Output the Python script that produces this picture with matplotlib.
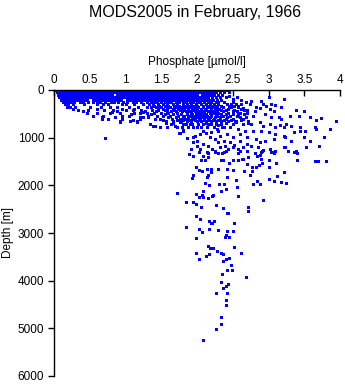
import matplotlib
matplotlib.use("Agg")
from matplotlib import pyplot as plt

# Phosphate values along the densely sampled upper levels (depth in the name, m)
p_0 = [0.02, 0.06, 0.1, 0.14, 0.17, 0.21, 0.25, 0.29, 0.33, 0.36, 0.4, 0.44, 0.48, 0.52, 0.55, 0.59,
       0.63, 0.67, 0.71, 0.74, 0.78, 0.82, 0.86, 0.9, 0.93, 0.97, 1.01, 1.05, 1.09, 1.12, 1.16, 1.2,
       1.24, 1.28, 1.31, 1.35, 1.39, 1.43, 1.47, 1.5, 1.54, 1.58, 1.62, 1.66, 1.69, 1.73, 1.77, 1.81,
       1.85, 1.88, 1.92, 1.96, 2.0, 2.04, 2.07, 2.11, 2.15, 2.19, 2.23, 2.28, 2.34, 2.4]
p_50 = [0.04, 0.08, 0.12, 0.16, 0.2, 0.23, 0.27, 0.31, 0.35, 0.39, 0.42, 0.46, 0.5, 0.54, 0.58, 0.61,
        0.65, 0.69, 0.73, 0.77, 0.8, 0.84, 0.88, 0.92, 0.96, 0.99, 1.03, 1.07, 1.11, 1.15, 1.18, 1.22,
        1.26, 1.3, 1.34, 1.37, 1.41, 1.45, 1.49, 1.53, 1.56, 1.6, 1.64, 1.68, 1.72, 1.75, 1.79, 1.83,
        1.87, 1.91, 1.94, 1.98, 2.02, 2.06, 2.1, 2.14, 2.18, 2.22, 2.27, 2.32, 2.38, 2.45]
p_100 = [0.05, 0.09, 0.13, 0.17, 0.21, 0.25, 0.29, 0.33, 0.37, 0.41, 0.45, 0.49, 0.53, 0.57, 0.61,
         0.65, 0.69, 0.73, 0.77, 0.81, 0.88, 0.92, 0.96, 1.0, 1.04, 1.08, 1.12, 1.16, 1.2, 1.24, 1.28,
         1.32, 1.36, 1.4, 1.44, 1.48, 1.52, 1.56, 1.6, 1.64, 1.68, 1.72, 1.76, 1.8, 1.84, 1.88, 1.92,
         1.96, 2.0, 2.07, 2.11, 2.15, 2.19, 2.24, 2.29, 2.35]
p_150 = [0.07, 0.11, 0.15, 0.19, 0.23, 0.27, 0.31, 0.35, 0.39, 0.43, 0.47, 0.51, 0.55, 0.59, 0.63,
         0.67, 0.71, 0.75, 0.79, 0.83, 0.87, 0.91, 0.95, 0.99, 1.03, 1.07, 1.11, 1.15, 1.19, 1.23, 1.27,
         1.31, 1.35, 1.39, 1.43, 1.47, 1.51, 1.55, 1.59, 1.63, 1.67, 1.71, 1.75, 1.79, 1.83, 1.87, 1.91,
         1.95, 1.99, 2.03, 2.07, 2.11, 2.16, 2.21, 2.26, 2.32, 2.4]
p_200 = [0.1, 0.14, 0.18, 0.22, 0.26, 0.3, 0.34, 0.38, 0.42, 0.46, 0.54, 0.58, 0.62, 0.66, 0.7, 0.74,
         0.78, 0.82, 0.86, 0.9, 0.94, 1.02, 1.06, 1.1, 1.14, 1.18, 1.22, 1.26, 1.3, 1.34, 1.38, 1.42,
         1.46, 1.5, 1.54, 1.58, 1.62, 1.66, 1.7, 1.74, 1.78, 1.82, 1.86, 1.9, 1.94, 1.98, 2.02, 2.06,
         2.1, 2.14, 2.18, 2.23, 2.28, 2.34]
p_250 = [0.12, 0.16, 0.2, 0.24, 0.28, 0.36, 0.4, 0.47, 0.55, 0.6, 0.64, 0.72, 0.8, 0.84, 0.9, 0.97,
         1.02, 1.1, 1.15, 1.22, 1.3, 1.36, 1.4, 1.44, 1.5, 1.55, 1.6, 1.64, 1.7, 1.75, 1.8, 1.84, 1.9,
         1.95, 2.0, 2.04, 2.1, 2.15, 2.2, 2.26, 2.3, 2.38, 2.5]
p_300 = [0.15, 0.2, 0.26, 0.42, 0.6, 0.68, 0.75, 0.95, 1.0, 1.12, 1.25, 1.33, 1.38, 1.45, 1.52, 1.58,
         1.66, 1.72, 1.8, 1.86, 1.92, 1.98, 2.05, 2.12, 2.18, 2.24, 2.3, 2.42, 2.55, 2.62]
p_330 = [1.4, 1.47, 1.55, 1.6, 1.68, 1.75, 1.82, 1.88, 1.94, 2.0, 2.09, 2.14, 2.2, 2.27, 2.33, 2.45,
         2.52]
p_360 = [0.18, 0.22, 0.3, 0.5, 0.66, 0.78, 0.88, 1.05, 1.18, 1.3, 1.36, 1.42, 1.5, 1.62, 1.7, 1.78,
         1.84, 1.9, 1.96, 2.02, 2.08, 2.16, 2.22, 2.28, 2.36, 2.48, 2.58]
p_390 = [0.26, 0.6, 0.95, 1.12, 1.45, 1.53, 1.58, 1.66, 1.74, 1.81, 1.87, 1.93, 1.99, 2.05, 2.11,
         2.19, 2.25, 2.31, 2.43, 2.62]
p_420 = [0.33, 0.48, 0.7, 0.82, 1.0, 1.1, 1.22, 1.37, 1.46, 1.55, 1.68, 1.76, 1.82, 1.88, 1.94, 2.0,
         2.06, 2.12, 2.2, 2.26, 2.34, 2.4, 2.52, 2.66]
p_450 = [0.4, 0.88, 1.27, 1.42, 1.58, 1.64, 1.71, 1.79, 1.84, 1.9, 1.97, 2.03, 2.09, 2.15, 2.22,
         2.28, 2.37, 2.56]
p_480 = [0.46, 0.6, 0.78, 0.92, 1.12, 1.2, 1.3, 1.4, 1.5, 1.6, 1.72, 1.86, 1.92, 1.98, 2.04, 2.1,
         2.18, 2.24, 2.3, 2.44, 2.6, 2.7]
p_510 = [1.08, 1.35, 1.55, 1.67, 1.78, 1.86, 1.93, 2.0, 2.06, 2.13, 2.2, 2.26, 2.33, 2.4, 2.5, 2.66]
p_540 = [0.55, 0.68, 0.95, 1.05, 1.32, 1.44, 1.53, 1.62, 1.74, 1.82, 1.9, 1.96, 2.02, 2.08, 2.14,
         2.2, 2.28, 2.36, 2.46, 2.56]
p_570 = [0.85, 1.25, 1.6, 1.7, 1.8, 1.87, 1.93, 1.99, 2.05, 2.12, 2.18, 2.25, 2.32, 2.42, 2.6]
p_600 = [0.67, 0.76, 0.95, 1.2, 1.41, 1.48, 1.65, 1.76, 1.83, 1.88, 1.95, 2.03, 2.1, 2.16, 2.24,
         2.32, 2.4, 2.5, 2.64]
p_630 = [1.1, 1.52, 1.72, 1.81, 1.9, 1.97, 2.04, 2.1, 2.17, 2.23, 2.3, 2.38, 2.48]
p_660 = [0.92, 1.06, 1.16, 1.57, 1.66, 1.78, 1.86, 1.92, 2.0, 2.06, 2.12, 2.2, 2.26, 2.34, 2.44,
         2.55, 2.72]
p_720 = [1.64, 1.84, 1.93, 2.02, 2.09, 2.2, 2.27, 2.34, 2.5]
p_780 = [1.72, 1.95, 2.05, 2.14, 2.24, 2.38]

levels = [0, 50, 100, 150, 200, 250, 300, 330, 360, 390, 420, 450, 480, 510, 540, 570, 600, 630,
          660, 720, 780]
level_rows = [p_0, p_50, p_100, p_150, p_200, p_250, p_300, p_330, p_360, p_390, p_420, p_450,
              p_480, p_510, p_540, p_570, p_600, p_630, p_660, p_720, p_780]

# scattered samples, upper / middle water
upper_p = [0.72, 0.92, 1.06, 1.16, 1.34, 1.41, 1.48, 1.58, 1.57, 1.66, 1.76, 1.79, 1.75, 1.8, 1.89,
           1.2, 1.32, 0.67, 0.55, 0.81, 0.95, 1.05, 1.25, 1.39, 1.69, 1.76, 1.81, 2.0, 2.09, 1.97,
           2.04, 2.0, 1.95, 2.09, 2.16, 2.04, 2.21, 2.25, 2.14, 2.32, 2.39, 2.44, 2.51, 2.58, 2.65,
           2.7, 2.6, 2.51, 2.42, 2.32, 2.25, 2.18, 2.6, 2.7, 2.67, 2.58, 2.46, 2.35, 2.28, 2.16,
           2.55, 2.65, 2.72, 1.93, 1.9, 1.81, 1.95, 2.45, 2.5, 2.56, 2.62, 2.68, 2.48, 2.58, 2.64,
           2.7, 2.5, 2.58, 2.68, 2.62, 2.53, 2.72, 2.4, 2.3, 2.12, 2.2, 2.3, 2.12, 1.88, 1.86, 2.38,
           2.46, 2.52, 2.3, 2.6, 2.7, 2.38, 2.0, 1.92]
upper_d = [1013, 680, 645, 680, 710, 755, 770, 780, 685, 685, 665, 770, 895, 840, 1340,
           575, 560, 575, 545, 455, 575, 545, 455, 748, 748, 909, 713, 769, 853, 958,
           923, 1062, 1097, 1132, 1167, 1237, 1237, 1307, 1307, 1202, 1167, 1237, 1202, 1237, 1202,
           1132, 1062, 992, 923, 958, 1027, 992, 923, 992, 853, 818, 783, 769, 818, 713,
           678, 713, 643, 608, 713, 853, 992, 120, 180, 150, 220, 260, 290, 330, 380,
           420, 440, 500, 560, 620, 650, 700, 700, 740, 690, 880, 860, 900, 780, 1000, 1060,
           1100, 1150, 1100, 1290, 1270, 1300, 1180, 1240]

# high-phosphate samples on the right side
right_p = [3.0, 3.21, 2.76, 2.74, 2.9, 2.93, 2.97, 3.04, 3.09, 2.83, 2.88, 3.02, 3.07, 3.18, 2.81,
           2.79, 2.95, 3.04, 3.14, 3.18, 3.39, 3.49, 3.42, 3.58, 3.74, 3.67, 3.95, 3.3, 3.25, 3.32,
           3.44, 3.44, 3.51, 3.65, 3.67, 3.86, 2.76, 2.88, 2.93, 3.02, 3.09, 3.16, 3.21, 2.79, 2.9,
           3.0, 3.09, 3.21, 3.35, 3.49, 3.77, 2.83, 2.88, 2.95, 3.07, 3.23, 3.32, 3.58, 2.76, 2.86,
           2.93, 3.02, 3.09, 3.21, 3.23, 3.39, 3.53, 3.7, 2.9, 3.07, 3.35]
right_d = [154, 196, 224, 293, 238, 293, 328, 293, 307, 363, 377, 398, 433, 363, 433,
           538, 503, 573, 573, 608, 419, 447, 538, 573, 587, 629, 657, 552, 713, 748,
           769, 853, 867, 783, 818, 818, 713, 678, 748, 713, 769, 727, 783, 853, 853,
           888, 923, 958, 888, 979, 979, 1027, 1097, 1062, 1027, 992, 1076, 1062, 1167, 1202,
           1258, 1237, 1272, 1202, 1188, 1272, 1188, 1167, 1307, 1307, 1307]

# deep samples below about 1300 m
deep_p = [1.89, 1.95, 2.03, 2.09, 2.15, 2.15, 2.25, 2.29, 2.35, 2.41, 2.57, 2.65, 2.72, 2.81, 2.84,
          2.88, 2.91, 3.03, 3.08, 3.27, 3.4, 2.06, 2.11, 2.34, 2.37, 2.45, 2.5, 2.58, 2.63, 2.7,
          2.77, 2.83, 2.87, 2.91, 2.9, 3.01, 3.11, 3.4, 3.65, 3.69, 3.8, 1.99, 2.03, 2.07, 2.14,
          2.2, 2.19, 2.15, 2.3, 2.42, 2.5, 2.66, 2.74, 2.77, 3.01, 3.21, 1.95, 1.93, 2.14, 2.42,
          2.54, 2.84, 3.0, 3.12, 3.08, 3.17, 3.25, 2.11, 2.17, 2.31, 2.38, 2.56, 2.79, 2.88, 1.72,
          2.08, 2.33, 2.41, 1.98, 2.07, 2.03, 2.09, 2.16, 2.21, 2.23, 2.58, 2.92, 1.84, 1.95, 1.99,
          2.06, 2.26, 2.37, 2.42, 2.44, 2.72, 2.72, 1.98, 2.04, 1.84, 2.17, 2.19, 2.21, 2.24, 2.52,
          2.03, 2.17, 2.29, 2.42, 2.5, 2.07, 1.98, 2.41, 2.39, 2.45, 2.15, 2.18, 2.23, 2.52, 1.98,
          2.17, 2.13, 2.03, 2.28, 2.33, 2.36, 2.4, 2.45, 2.61, 2.37, 2.47, 2.42, 2.49, 2.35, 2.69,
          2.34, 2.44, 2.41, 2.37, 2.27, 2.42, 2.4, 2.41, 2.34, 2.34, 2.27, 2.09]
deep_d = [1342, 1384, 1300, 1384, 1314, 1398, 1286, 1328, 1328, 1272, 1314, 1440, 1412, 1328, 1384,
          1356, 1286, 1300, 1328, 1286, 1314, 1468, 1468, 1468, 1468, 1524, 1468, 1468, 1440, 1552,
          1608, 1608, 1580, 1538, 1440, 1468, 1538, 1468, 1496, 1482, 1482, 1621, 1677, 1705, 1663,
          1649, 1719, 1775, 1663, 1663, 1677, 1705, 1775, 1705, 1621, 1719, 1789, 1845, 1831, 1831,
          1894, 1901, 1859, 1803, 1901, 1929, 1957, 1957, 1985, 1971, 1971, 2041, 1971, 1971, 2153,
          2125, 2111, 2083, 2188, 2209, 2251, 2237, 2265, 2223, 2209, 2223, 2313, 2348, 2341, 2397,
          2460, 2411, 2467, 2586, 2572, 2460, 2544, 2649, 2698, 2880, 2740, 2782, 2782, 2754, 2796,
          2922, 2922, 2936, 2964, 2950, 2978, 3110, 3047, 3075, 3089, 3271, 3320, 3320, 3292, 3410,
          3450, 3490, 3540, 3380, 3410, 3450, 3540, 3530, 3420, 3590, 3670, 3770, 3780, 3850, 3920,
          4020, 4070, 4110, 4160, 4260, 4260, 4410, 4510, 4760, 4910, 5020, 5250]

xticks = [0, 0.5, 1, 1.5, 2, 2.5, 3, 3.5, 4]
xticklabels = ["0", "0.5", "1", "1.5", "2", "2.5", "3", "3.5", "4"]
yticks = [0, 1000, 2000, 3000, 4000, 5000, 6000]

fonte = "Liberation Sans"
azul = "#0000ff"

fig = plt.figure(figsize=(3.45, 3.84), dpi=100)
ax = fig.add_axes([54 / 345, 8 / 384, 286 / 345, 286 / 384])

for d, row in zip(levels, level_rows):
    ax.plot(row, [d] * len(row), "s", color=azul, markersize=2.16,
            markeredgewidth=0, linestyle="none", antialiased=False)
for px, dy in [(upper_p, upper_d), (right_p, right_d), (deep_p, deep_d)]:
    ax.plot(px, dy, "s", color=azul, markersize=2.16,
            markeredgewidth=0, linestyle="none", antialiased=False)

ax.set_xlim(0, 4)
ax.set_ylim(6000, 0)
ax.xaxis.tick_top()
ax.set_xticks(xticks)
ax.set_xticklabels(xticklabels, fontfamily=fonte, fontsize=8.5)
ax.set_yticks(yticks)
ax.set_yticklabels([str(v) for v in yticks], fontfamily=fonte, fontsize=8.5)
ax.tick_params(axis="x", direction="in", length=4, width=1, pad=3)
ax.tick_params(axis="y", direction="out", length=4, width=1, pad=3)
ax.spines["right"].set_visible(False)
ax.spines["bottom"].set_visible(False)
ax.spines["top"].set_linewidth(1)
ax.spines["left"].set_linewidth(1)

fig.text(195 / 345, 1 - 12 / 384, "MODS2005 in February, 1966", ha="center", va="center",
         fontfamily=fonte, fontsize=11.5)
fig.text(197 / 345, 1 - 62 / 384, "Phosphate [\u00b5mol/l]", ha="center", va="center",
         fontfamily=fonte, fontsize=8.5)
fig.text(8 / 345, 1 - 233 / 384, "Depth [m]", ha="center", va="center", rotation=90,
         fontfamily=fonte, fontsize=8.5)

fig.savefig("out.png", dpi=100)
